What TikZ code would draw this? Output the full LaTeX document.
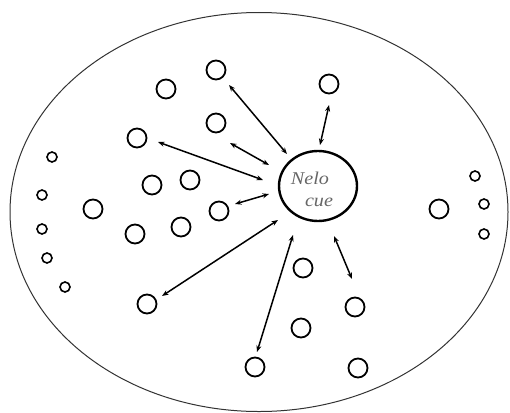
\documentclass[tikz,border=0pt]{standalone}
\usepackage{fontspec}
\setmainfont{Liberation Serif}
\usetikzlibrary{arrows.meta,shapes.geometric}
\begin{document}
\begin{tikzpicture}[x=1pt,y=-1pt,
  cell/.style={circle,draw=black,line width=1.8pt,minimum size=19pt,inner sep=0pt},
  dot/.style={circle,draw=black,line width=1.6pt,minimum size=10pt,inner sep=0pt},
  link/.style={line width=1.5pt,{Stealth[length=6.5pt,width=5pt]}-{Stealth[length=6.5pt,width=5pt]}},
  lbl/.style={font=\itshape\fontsize{18}{18}\selectfont,text=black!60,inner sep=0pt,xscale=1.12}]
\useasboundingbox (0,0) rectangle (510,412);
\node[ellipse,draw=black!80,line width=1pt,minimum width=498pt,minimum height=399pt,inner sep=0pt] (cellwall) at (259,212) {};
\node[ellipse,draw=black,line width=2.4pt,minimum width=78pt,minimum height=70pt,inner sep=0pt] (nuc) at (318,186) {};
\node[lbl] (t1) at (310,178) {Nelo};
\node[lbl] (t2) at (319,202) {cue};
% medium circles
\node[cell] (c1) at (216,70) {};
\node[cell] (c2) at (166,89) {};
\node[cell] (c3) at (329,84) {};
\node[cell] (c4) at (216,123) {};
\node[cell] (c5) at (137,138) {};
\node[cell] (c6) at (152,185) {};
\node[cell] (c7) at (190,180) {};
\node[cell] (c8) at (93,209) {};
\node[cell] (c9) at (219,211) {};
\node[cell] (c10) at (135,234) {};
\node[cell] (c11) at (181,227) {};
\node[cell] (c12) at (439,209) {};
\node[cell] (c13) at (303,268) {};
\node[cell] (c14) at (355,307) {};
\node[cell] (c15) at (147,304) {};
\node[cell] (c16) at (301,328) {};
\node[cell] (c17) at (255,367) {};
\node[cell] (c18) at (358,368) {};
% small circles
\node[dot] (d1) at (52,157) {};
\node[dot] (d2) at (42,195) {};
\node[dot] (d3) at (42,229) {};
\node[dot] (d4) at (47,258) {};
\node[dot] (d5) at (65,287) {};
\node[dot] (d6) at (475,176) {};
\node[dot] (d7) at (484,204) {};
\node[dot] (d8) at (484,234) {};
% arrow end points
\coordinate (a1) at (229,85);  \coordinate (b1) at (287,154);
\coordinate (a2) at (329,105); \coordinate (b2) at (320,145);
\coordinate (a3) at (230,143); \coordinate (b3) at (269,165);
\coordinate (a4) at (158,142); \coordinate (b4) at (263,180);
\coordinate (a5) at (235,204); \coordinate (b5) at (269,194);
\coordinate (a6) at (162,296); \coordinate (b6) at (278,220);
\coordinate (a7) at (257,352); \coordinate (b7) at (293,235);
\coordinate (a8) at (352,279); \coordinate (b8) at (334,236);
\foreach \i in {1,...,8} {\draw[link] (a\i) -- (b\i);}
\end{tikzpicture}
\end{document}
